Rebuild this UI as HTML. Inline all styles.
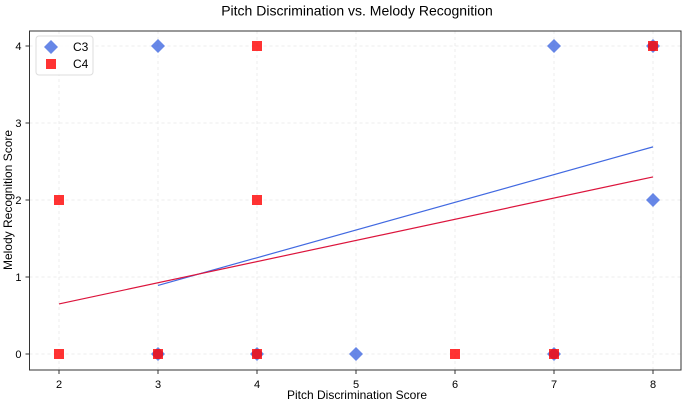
<!DOCTYPE html>
<html><head><meta charset="utf-8"><style>
body{margin:0;background:#fff;}
svg{font-family:"Liberation Sans",sans-serif;}
</style></head><body>
<svg id="chart" width="685" height="401">
<text x="357" y="12" font-size="14" text-anchor="middle" dominant-baseline="middle">Pitch Discrimination vs. Melody Recognition</text>
<text x="357" y="399" font-size="12" text-anchor="middle">Pitch Discrimination Score</text>
<text transform="translate(12,200) rotate(-90)" font-size="12" text-anchor="middle">Melody Recognition Score</text>
<g id="grid"></g><g id="marks"></g><g id="axes"></g>
</svg>
<script>
const xTicks=[2,3,4,5,6,7,8];
const yTicks=[0,1,2,3,4];
const c3x=[3,7,8,8,3,4,5,7];
const c3y=[4,4,4,2,0,0,0,0];
const c4x=[4,8,2,4,2,3,4,6,7];
const c4y=[4,4,2,2,0,0,0,0,0];
const c3TrendX=[3,8], c3TrendY=[0.89,2.69];
const c4TrendX=[2,8], c4TrendY=[0.65,2.30];
const L=29.5,R=681,T=31,B=370;
const sx=v=>59+(v-2)*99, sy=v=>354-v*77;
const NS="http://www.w3.org/2000/svg";
function mk(tag,attrs,parent){const e=document.createElementNS(NS,tag);for(const k in attrs)e.setAttribute(k,attrs[k]);parent.appendChild(e);return e;}
const grid=document.getElementById('grid'),marks=document.getElementById('marks'),axes=document.getElementById('axes');
xTicks.forEach(v=>{
 const g=mk('line',{x1:sx(v),x2:sx(v),y1:T,y2:B,stroke:'#ececec','stroke-dasharray':'3,3'},grid);
 
 const t=mk('line',{x1:sx(v),x2:sx(v),y1:B,y2:B+4,stroke:'#333'},axes);
 
 const l=mk('text',{x:sx(v),y:B+18,'font-size':11,'text-anchor':'middle'},axes);l.textContent=v;
 
});
yTicks.forEach(v=>{
 const g=mk('line',{x1:L,x2:R,y1:sy(v),y2:sy(v),stroke:'#ececec','stroke-dasharray':'3,3'},grid);
 
 const t=mk('line',{x1:L-4,x2:L,y1:sy(v),y2:sy(v),stroke:'#333'},axes);
 
 const l=mk('text',{x:L-8,y:sy(v)+4,'font-size':11,'text-anchor':'end'},axes);l.textContent=v;
 
});
const fr=mk('rect',{x:L,y:T,width:R-L,height:B-T,fill:'none',stroke:'#333','stroke-width':1},axes);

c3x.forEach((x,i)=>{
 const cx=sx(x),cy=sy(c3y[i]);
 const p=mk('polygon',{points:`${cx},${cy-7} ${cx+7},${cy} ${cx},${cy+7} ${cx-7},${cy}`,fill:'#4169e1','fill-opacity':0.8},marks);
 
});
c4x.forEach((x,i)=>{
 const cx=sx(x),cy=sy(c4y[i]);
 const p=mk('rect',{x:cx-5,y:cy-5,width:10,height:10,fill:'#ff0000','fill-opacity':0.8},marks);
 
});
const l3=mk('line',{x1:sx(c3TrendX[0]),y1:sy(c3TrendY[0]),x2:sx(c3TrendX[1]),y2:sy(c3TrendY[1]),stroke:'#4169e1','stroke-width':1.2},marks);

const l4=mk('line',{x1:sx(c4TrendX[0]),y1:sy(c4TrendY[0]),x2:sx(c4TrendX[1]),y2:sy(c4TrendY[1]),stroke:'#dc143c','stroke-width':1.2},marks);

const lg=mk('g',{},axes);

mk('rect',{x:36,y:36,width:57,height:39,rx:3,fill:'#fff','fill-opacity':0.85,stroke:'#ddd'},lg);
mk('polygon',{points:'51,40 58,47 51,54 44,47',fill:'#4169e1','fill-opacity':0.8},lg);
mk('rect',{x:46,y:59,width:10,height:10,fill:'#ff0000','fill-opacity':0.8},lg);
const t1=mk('text',{x:73,y:51,'font-size':12},lg);t1.textContent='C3';

const t2=mk('text',{x:73,y:68,'font-size':12},lg);t2.textContent='C4';

</script>
</body></html>
